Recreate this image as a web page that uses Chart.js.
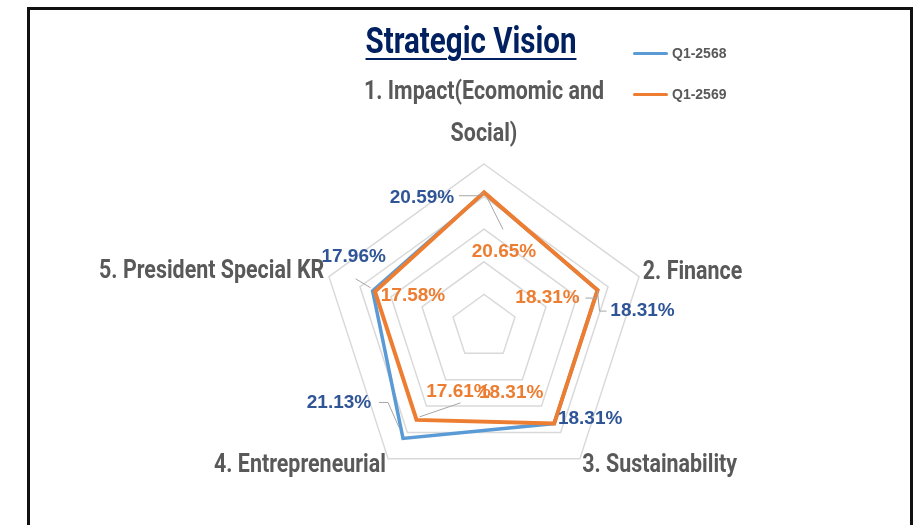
<!DOCTYPE html>
<html>
<head>
<meta charset="utf-8">
<script src="https://cdn.jsdelivr.net/npm/chart.js@4.4.1/dist/chart.umd.min.js"></script>
<style>
  html, body { margin: 0; padding: 0; background: #fff; width: 920px; height: 525px; overflow: hidden; position: relative; font-family: "Liberation Sans", Arial, sans-serif; }
  #chart { position: absolute; left: 0; top: 0; }
  #frame { position: absolute; left: 27px; top: 7px; width: 880px; height: 540px; border: 3px solid #111; border-bottom: none; pointer-events: none; }
  #title { position: absolute; left: 471px; top: 23px; transform: translateX(-50%) scaleX(0.82); font-family: Roboto, sans-serif;
           font-weight: 700; font-size: 36px; line-height: 36px; color: #002060; white-space: nowrap;
           text-decoration: underline; text-underline-offset: 5px; text-decoration-thickness: 1.5px; }
  .leg { position: absolute; left: 633px; height: 16px; display: flex; align-items: center; font-weight: 700; font-size: 14px; color: #595959; }
  .leg i { display: inline-block; width: 35px; height: 3px; border-radius: 2px; margin-right: 4px; }
</style>
</head>
<body>
<canvas id="chart" width="920" height="525"></canvas>
<div id="title">Strategic Vision</div>
<div id="legend"></div>
<div id="frame"></div>
<script>
// categories and values
var categories = [['1. Impact(Ecomomic and', 'Social)'], '2. Finance', '3. Sustainability', '4. Entrepreneurial', '5. President Special KR'];
var seriesNames = ['Q1-2568', 'Q1-2569'];
var q2568 = [20.59, 18.31, 18.31, 21.13, 17.96];
var q2569 = [20.65, 18.31, 18.31, 17.61, 17.58];
var rTicks = [0, 5, 10, 15, 20, 25];

var colors = ['#5B9BD5', '#ED7D31'];
var labelColors = ['#2F5597', '#ED7D31'];

// where each value label sits relative to its point, plus leader line
var labelSpots = [
    [
        {dx: -62, dy: 5, lead: [[-25, 3], [-7, 3], [0, 0]]},
        {dx: 45, dy: 21, lead: [[0, 1], [2, 21], [9, 21]]},
        {dx: 36, dy: -5},
        {dx: -64, dy: -36, lead: [[-24, -36], [-15, -36], [-4, -11]]},
        {dx: -19, dy: -34, lead: [[-17, -12], [-2, -3]]}
    ],
    [
        {dx: 20, dy: 59, lead: [[3, 5], [19, 37]]},
        {dx: -50, dy: 8, lead: [[-12, 8], [0, 8]]},
        {dx: -43, dy: -31},
        {dx: 42, dy: -28, lead: [[3, -3], [44, -17]]},
        {dx: 38, dy: 4}
    ]
];

// category labels: distance past the outer ring, vertical nudge, alignment
var labelPads = [8, 4, 4, 4, 5];
var labelVOff = [-21.5, -3, 4, 4, -3];
var labelAlign = ['center', 'left', 'left', 'right', 'right'];

var valueLabels = {
    id: 'valueLabels',
    afterDatasetsDraw: function (chart) {
        var ctx = chart.ctx;
        ctx.save();
        chart.data.datasets.forEach(function (ds, di) {
            var meta = chart.getDatasetMeta(di);
            meta.data.forEach(function (pt, i) {
                var spot = labelSpots[di][i];
                if (spot.lead) {
                    ctx.strokeStyle = '#a6a6a6';
                    ctx.lineWidth = 1;
                    ctx.beginPath();
                    spot.lead.forEach(function (p, k) {
                        if (k == 0) ctx.moveTo(pt.x + p[0], pt.y + p[1]);
                        else ctx.lineTo(pt.x + p[0], pt.y + p[1]);
                    });
                    ctx.stroke();
                }
                ctx.font = '700 19px "Liberation Sans", Arial, sans-serif';
                ctx.fillStyle = labelColors[di];
                ctx.textAlign = 'center';
                ctx.textBaseline = 'middle';
                ctx.fillText(ds.data[i].toFixed(2) + '%', pt.x + spot.dx, pt.y + spot.dy);
            });
        });
        ctx.restore();
    }
};

var axisLabels = {
    id: 'axisLabels',
    afterDraw: function (chart) {
        var ctx = chart.ctx;
        var scale = chart.scales.r;
        ctx.save();
        ctx.font = '700 25.5px Roboto, sans-serif';
        ctx.fillStyle = '#595959';
        ctx.textBaseline = 'middle';
        chart.data.labels.forEach(function (lab, i) {
            var p = scale.getPointPosition(i, scale.drawingArea + labelPads[i]);
            var lines = [].concat(lab);
            ctx.textAlign = labelAlign[i];
            lines.forEach(function (line, k) {
                var y = p.y + labelVOff[i] - (lines.length - 1 - k) * 42;
                ctx.save();
                ctx.translate(p.x, y);
                ctx.scale(0.84, 1);
                ctx.fillText(line, 0, 0);
                ctx.restore();
            });
        });
        ctx.restore();
    }
};

var myChart = new Chart(document.getElementById('chart'), {
    type: 'radar',
    data: {
        labels: categories,
        datasets: [{
            label: seriesNames[0],
            data: q2568,
            borderColor: colors[0],
            backgroundColor: colors[0],
            borderWidth: 3.5,
            fill: false,
            order: 1
        }, {
            label: seriesNames[1],
            data: q2569,
            borderColor: colors[1],
            backgroundColor: colors[1],
            borderWidth: 4,
            fill: false,
            order: 0
        }]
    },
    options: {
        responsive: false,
        animation: false,
        layout: {padding: {left: 321, right: 273, top: 164, bottom: 35}},
        elements: {point: {radius: 0}, line: {tension: 0}},
        plugins: {
            legend: {display: false},
            title: {display: false},
            tooltip: {enabled: false}
        },
        scales: {
            r: {
                min: rTicks[0],
                max: rTicks[rTicks.length - 1],
                ticks: {display: false, stepSize: rTicks[1] - rTicks[0]},
                grid: {color: '#d9d9d9', lineWidth: 1.5},
                angleLines: {display: false},
                pointLabels: {display: false}
            }
        }
    },
    plugins: [valueLabels, axisLabels]
});

// legend
var leg = document.getElementById('legend');
seriesNames.forEach(function (name, k) {
    var d = document.createElement('div');
    d.className = 'leg';
    d.style.top = (45 + k * 41) + 'px';
    d.innerHTML = '<i style="background:' + colors[k] + '"></i>' + name;
    leg.appendChild(d);
});
</script>
</body>
</html>
